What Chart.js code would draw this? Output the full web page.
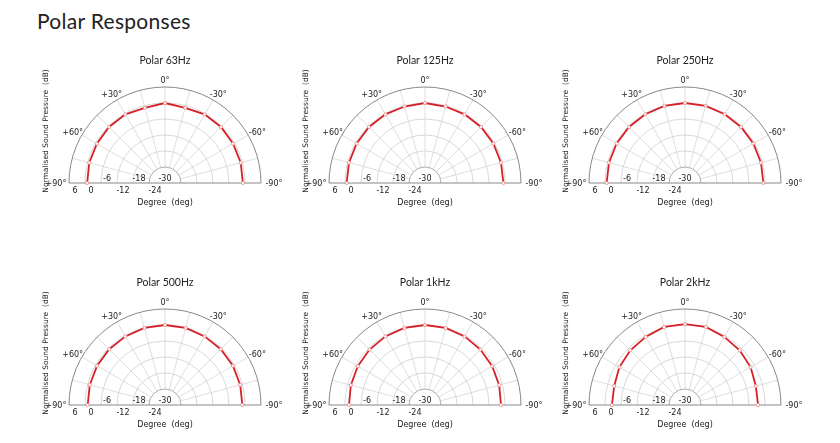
<!DOCTYPE html>
<html><head><meta charset="utf-8">
<script src="https://cdn.jsdelivr.net/npm/chart.js@4"></script>
<style>
body{margin:0;background:#fff;width:840px;height:443px;position:relative;overflow:hidden;font-family:Lato,sans-serif}
h1{position:absolute;left:37px;top:8px;margin:0;font-weight:normal;font-size:21px;color:#222;letter-spacing:.3px}
.p{position:absolute;width:260px;height:170px}
</style></head><body>
<h1>Polar Responses</h1>
<div class="p" style="left:35px;top:50px"><canvas id="c0" width="260" height="170"></canvas></div>
<div class="p" style="left:295px;top:50px"><canvas id="c1" width="260" height="170"></canvas></div>
<div class="p" style="left:555px;top:50px"><canvas id="c2" width="260" height="170"></canvas></div>
<div class="p" style="left:35px;top:272px"><canvas id="c3" width="260" height="170"></canvas></div>
<div class="p" style="left:295px;top:272px"><canvas id="c4" width="260" height="170"></canvas></div>
<div class="p" style="left:555px;top:272px"><canvas id="c5" width="260" height="170"></canvas></div>
<script>
// angles in degrees, +90 on the left
const angulos=[90,75,60,45,30,15,0,-15,-30,-45,-60,-75,-90];
const titulos=['Polar 63Hz','Polar 125Hz','Polar 250Hz','Polar 500Hz','Polar 1kHz','Polar 2kHz'];
const r63 =[-0.8,-0.6,-0.5,-0.3,-0.3,-0.8,0,-0.8,-0.3,-0.3,-0.5,-0.6,-0.8];
const r125=[-0.6,-0.5,-0.4,-0.3,-0.3,-0.3,0,-0.3,-0.3,-0.3,-0.4,-0.5,-0.6];
const r250=[-0.6,-0.5,-0.4,-0.3,-0.2,-0.1,0,-0.1,-0.2,-0.3,-0.4,-0.5,-0.6];
const r500=[-1.0,-0.8,-0.6,-0.4,-0.3,-0.1,0,-0.1,-0.3,-0.4,-0.6,-0.8,-1.0];
const r1k =[-1.5,-1.2,-0.9,-0.6,-0.3,-0.1,0,-0.1,-0.3,-0.6,-0.9,-1.2,-1.5];
const r2k =[-2.6,-2.5,-1.6,-1.0,-0.5,0.3,0.3,0.3,-0.5,-1.0,-1.6,-2.5,-2.6];
const series=[r63,r125,r250,r500,r1k,r2k];
const ticksR=[6,0,-6,-12,-18,-24,-30];
const abaixo=[true,true,false,true,false,true,false];
const MINDB=-30;

const gradePlugin={
  id:'grade',
  beforeDatasetsDraw(ch){
    const c=ch.ctx,x=ch.scales.x,y=ch.scales.y;
    const cx=x.getPixelForValue(0),cy=y.getPixelForValue(0),k=cx-x.getPixelForValue(-1);
    c.save();
    c.strokeStyle='#d6d6d6';c.lineWidth=0.8;
    for(let a=-75;a<=75;a+=15){
      const t=a*Math.PI/180;
      c.beginPath();c.moveTo(cx-6*k*Math.sin(t),cy-6*k*Math.cos(t));
      c.lineTo(cx-36*k*Math.sin(t),cy-36*k*Math.cos(t));c.stroke();
    }
    for(let r=6;r<=36;r+=6){
      c.strokeStyle=r===36?'#888':(r===6?'#999':'#cfcfcf');c.lineWidth=r===36?1:0.8;
      c.beginPath();c.arc(cx,cy,r*k,Math.PI,2*Math.PI);c.stroke();
    }
    c.strokeStyle='#888';c.beginPath();c.moveTo(cx-36*k,cy);c.lineTo(cx+36*k,cy);c.stroke();
    c.fillStyle='#222';c.font='8px "DejaVu Sans"';c.textAlign='center';
    ticksR.forEach((v,i)=>{
      const px=cx-(v-MINDB)*k+(v===-30?0:6);
      c.fillText(String(v),px,abaixo[i]?cy+10:cy-2);
    });
    [[0,'0°'],[30,'+30°'],[60,'+60°'],[-30,'-30°'],[-60,'-60°']].forEach(([a,s])=>{
      const t=a*Math.PI/180;
      c.fillText(s,cx-40*k*Math.sin(t),cy-38.5*k*Math.cos(t)+3);
    });
    c.fillText('+90°',cx-36*k-13,cy+3);c.fillText('-90°',cx+36*k+13,cy+3);
    c.fillText('Degree  (deg)',cx,cy+22);
    c.font='10.5px Lato';c.fillText(ch.options.titulo,cx,14);
    c.font='7.5px "DejaVu Sans"';c.translate(cx-36*k-21,cy-52);c.rotate(-Math.PI/2);
    c.fillText('Normalised Sound Pressure  (dB)',0,0);
    c.restore();
  }
};

series.forEach((s,i)=>{
  const pts=s.map((v,j)=>{const t=angulos[j]*Math.PI/180,r=v-MINDB;return{x:-r*Math.sin(t),y:r*Math.cos(t)};});
  new Chart(document.getElementById('c'+i),{
    type:'scatter',
    data:{datasets:[{data:pts,showLine:true,borderColor:'#d62027',borderWidth:1.8,pointRadius:1.6,
      pointBackgroundColor:'#fff',pointBorderColor:'#e88',pointBorderWidth:0.8,clip:false,tension:0}]},
    options:{titulo:titulos[i],responsive:false,animation:false,
      layout:{padding:{top:37,bottom:37,left:10,right:10}},
      scales:{x:{display:false,min:-45,max:45},y:{display:false,min:0,max:36}},
      plugins:{legend:{display:false},tooltip:{enabled:false}}},
    plugins:[gradePlugin]
  });
});
</script></body></html>
